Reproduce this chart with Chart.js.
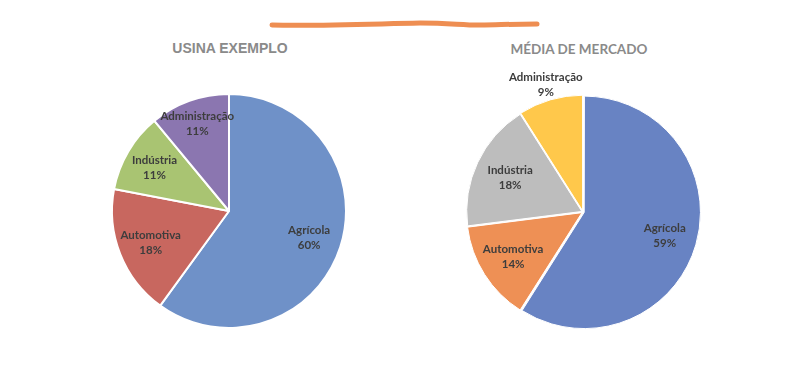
<!DOCTYPE html>
<html>
<head>
<meta charset="utf-8">
<script src="https://cdn.jsdelivr.net/npm/chart.js@4.4.0/dist/chart.umd.min.js"></script>
<style>
  html, body { margin: 0; padding: 0; background: #fff; }
  body { width: 792px; height: 375px; position: relative; overflow: hidden; }
  .box { position: absolute; }
  .title { position: absolute; font-weight: bold; color: #8a8a8a; text-align: center; width: 240px; }
</style>
</head>
<body>
<svg class="box" style="left:0;top:0" width="792" height="60">
  <path d="M272 25 C 320 26, 370 24, 420 23 C 450 23, 460 25, 480 25 C 500 25, 505 24, 537 24"
        stroke="#EE8E52" stroke-width="5" fill="none" stroke-linecap="round"/>
</svg>
<div class="title" style="left:110px;top:40px;font-family:Arial,'Liberation Sans',sans-serif;font-size:14px;">USINA EXEMPLO</div>
<div class="title" style="left:459px;top:41px;font-family:Lato,sans-serif;font-size:13.5px;">MÉDIA DE MERCADO</div>
<div class="box" style="left:92px;top:74px;width:274px;height:274px"><canvas id="left"></canvas></div>
<div class="box" style="left:443px;top:52px;width:280px;height:320px"><canvas id="right"></canvas></div>
<script>
// ----- Data -----
const categories = ["Agrícola", "Automotiva", "Indústria", "Administração"];
const usinaValues = [60, 18, 11, 11];
const mercadoValues = [59, 14, 18, 9];
const usinaColors = ["#6F91C8", "#C8675F", "#A9C472", "#8B76B0"];
const mercadoColors = ["#6883C3", "#EE9055", "#BDBDBD", "#FFC84B"];

// ----- Slice label plugin -----
const sliceLabels = {
  id: "sliceLabels",
  afterDatasetsDraw(chart) {
    const opts = chart.options.plugins.sliceLabels || {};
    const dist = opts.dist || [];
    const { ctx } = chart;
    const meta = chart.getDatasetMeta(0);
    const data = chart.data.datasets[0].data;
    const total = data.reduce((a, b) => a + b, 0);
    ctx.save();
    ctx.font = "bold 11.5px Lato, sans-serif";
    ctx.fillStyle = "#3d3d3d";
    ctx.textAlign = "center";
    ctx.textBaseline = "middle";
    meta.data.forEach((arc, i) => {
      const p = arc.getProps(["x", "y", "startAngle", "endAngle", "outerRadius"], true);
      const mid = (p.startAngle + p.endAngle) / 2;
      const r = p.outerRadius * (dist[i] || 0.72);
      const cx = p.x + Math.cos(mid) * r;
      const cy = p.y + Math.sin(mid) * r;
      const pct = Math.round(data[i] / total * 100) + "%";
      ctx.fillText(chart.data.labels[i], cx, cy - 7);
      ctx.fillText(pct, cx, cy + 8);
    });
    ctx.restore();
  }
};

function makePie(id, values, colors, extra, pad, dist) {
  return new Chart(document.getElementById(id), {
    type: "pie",
    data: {
      labels: categories,
      datasets: [Object.assign({
        data: values,
        backgroundColor: colors,
        borderColor: "#fff"
      }, extra)]
    },
    options: {
      animation: false,
      responsive: true,
      maintainAspectRatio: false,
      layout: { padding: pad },
      plugins: {
        legend: { display: false },
        tooltip: { enabled: false },
        sliceLabels: { dist }
      }
    },
    plugins: [sliceLabels]
  });
}

makePie("left", usinaValues, usinaColors, { borderWidth: 2 }, 19, [0.72, 0.72, 0.74, 0.8]);
makePie("right", mercadoValues, mercadoColors, { borderWidth: 1, offset: 5 },
  { left: 22, right: 22, top: 42, bottom: 42 }, [0.74, 0.72, 0.7, 1.16]);
</script>
</body>
</html>
